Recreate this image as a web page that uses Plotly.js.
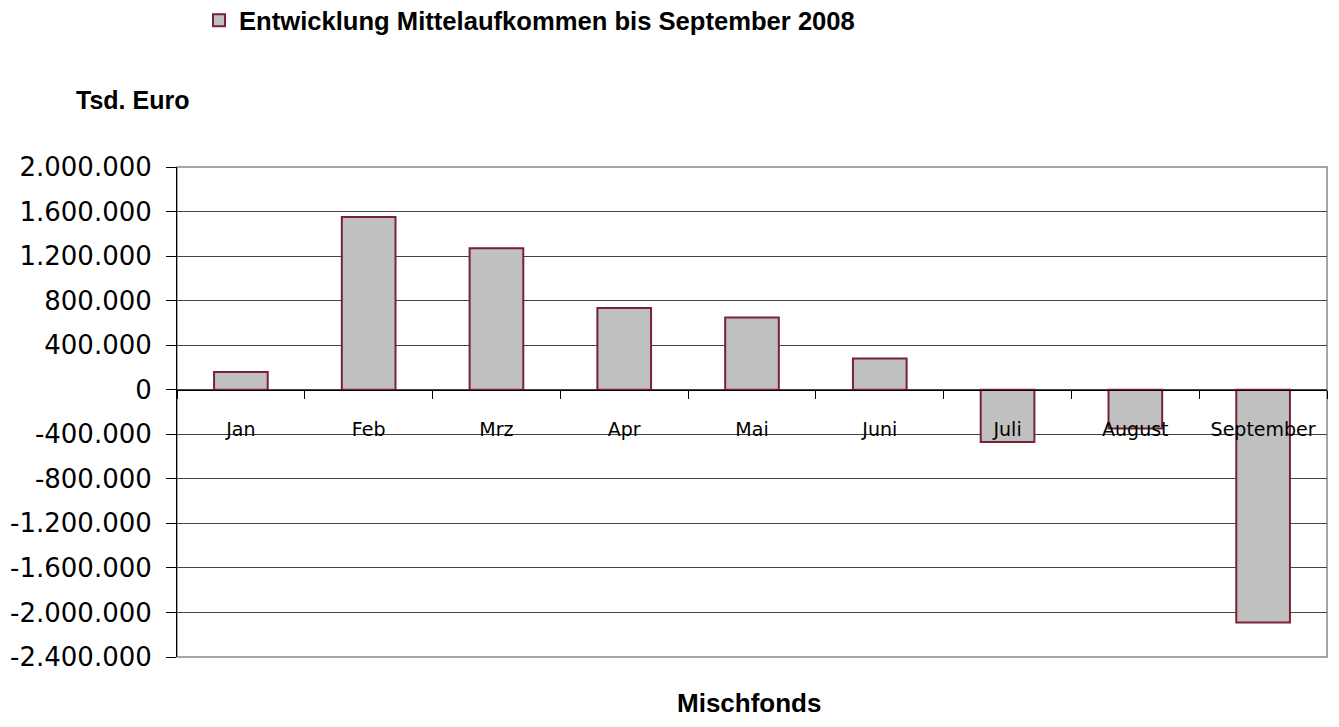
<!DOCTYPE html>
<html>
<head>
<meta charset="utf-8">
<script src="https://cdn.plot.ly/plotly-3.0.1.min.js"></script>
<style>html,body{margin:0;padding:0;background:#fff;}#chart{width:1339px;height:727px;}</style>
</head>
<body>
<div id="chart"></div>
<script>
const months = ["Jan", "Feb", "Mrz", "Apr", "Mai", "Juni", "Juli", "August", "September"];
const mittelaufkommen = [160000, 1550000, 1270000, 735000, 648000, 280000, -470000, -348000, -2090000];
const tickVals = [-2400000, -2000000, -1600000, -1200000, -800000, -400000, 0, 400000, 800000, 1200000, 1600000, 2000000];
const tickLabels = ["-2.400.000", "-2.000.000", "-1.600.000", "-1.200.000", "-800.000", "-400.000", "0", "400.000", "800.000", "1.200.000", "1.600.000", "2.000.000"];
const seriesName = "Entwicklung Mittelaufkommen bis September 2008";
const unitLabel = "Tsd. Euro";
const categoryLabel = "Mischfonds";

const yMin = -2400000, yMax = 2000000;
const zeroPos = (0 - yMin) / (yMax - yMin);

const trace = {
  type: "bar",
  x: months,
  y: mittelaufkommen,
  name: seriesName,
  width: 0.42,
  marker: { color: "#C0C0C0", line: { color: "#7A2234", width: 2 } },
  showlegend: true,
  hoverinfo: "x+y"
};

const layout = {
  width: 1339, height: 727,
  margin: { l: 177, r: 12, t: 167, b: 70, pad: 0, autoexpand: false },
  paper_bgcolor: "#fff", plot_bgcolor: "#fff",
  font: { family: "DejaVu Sans, sans-serif", color: "#000" },
  showlegend: true,
  legend: {
    orientation: "h", x: (199 - 177) / 1150, xanchor: "left",
    y: 1 + (167 + 3) / 490, yanchor: "top",
    font: { family: "Liberation Sans, Arial, sans-serif", size: 25.6, color: "#000", weight: "bold" },
    bgcolor: "rgba(0,0,0,0)", borderwidth: 0
  },
  xaxis: {
    type: "category",
    anchor: "free", position: zeroPos,
    tickson: "boundaries",
    ticks: "outside", ticklen: 8, tickcolor: "#000", tickwidth: 1,
    showline: true, linecolor: "#000", linewidth: 1,
    showgrid: false, zeroline: false,
    tickfont: { family: "DejaVu Sans, sans-serif", size: 19, color: "#000" },
    ticklabelstandoff: 22,
    fixedrange: true
  },
  yaxis: {
    range: [yMin, yMax],
    tickmode: "array", tickvals: tickVals, ticktext: tickLabels,
    ticks: "outside", ticklen: 10, tickcolor: "#000", tickwidth: 1,
    showline: true, linecolor: "#000", linewidth: 1,
    showgrid: true, gridcolor: "#444", gridwidth: 1,
    zeroline: false,
    tickfont: { family: "DejaVu Sans, sans-serif", size: 26, color: "#000" },
    ticklabelstandoff: 9,
    fixedrange: true
  },
  shapes: [
    { type: "rect", xref: "paper", yref: "paper", x0: 0, x1: 1, y0: 0, y1: 1,
      line: { color: "#888", width: 1.5 }, fillcolor: "rgba(0,0,0,0)", layer: "below" }
  ],
  annotations: [
    { text: unitLabel, xref: "paper", yref: "paper", x: (74 - 177) / 1150, xanchor: "left",
      y: 1 + (167 - 100) / 490, yanchor: "middle", showarrow: false,
      font: { family: "Liberation Sans, Arial, sans-serif", size: 25, color: "#000", weight: "bold" } },
    { text: categoryLabel, xref: "paper", yref: "paper", x: (749 - 177) / 1150, xanchor: "center",
      y: -(703 - 657) / 490, yanchor: "middle", showarrow: false,
      font: { family: "Liberation Sans, Arial, sans-serif", size: 26, color: "#000", weight: "bold" } }
  ]
};

Plotly.newPlot("chart", [trace], layout, { displayModeBar: false, staticPlot: true });
</script>
</body>
</html>
